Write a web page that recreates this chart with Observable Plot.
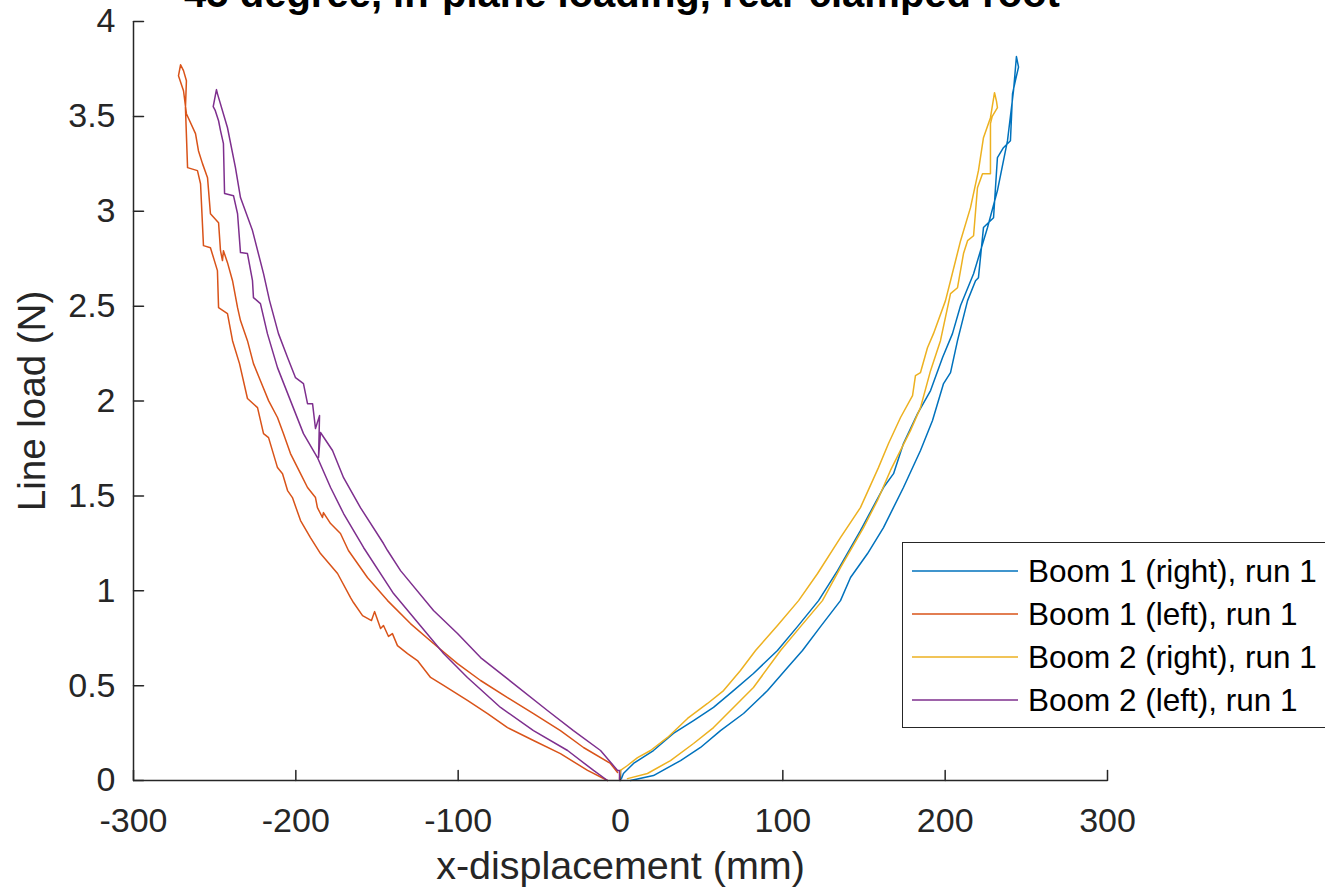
<!DOCTYPE html>
<html><head><meta charset="utf-8">
<script src="https://cdn.jsdelivr.net/npm/d3@7"></script>
<script src="https://cdn.jsdelivr.net/npm/@observablehq/plot@0.6"></script>
<style>
html,body{margin:0;padding:0;background:#fff;overflow:hidden;}
#wrap{position:relative;width:1325px;height:890px;overflow:hidden;font-family:"Liberation Sans",Arial,sans-serif;background:#fff;}
#title{position:absolute;left:0;width:1244px;text-align:center;top:-27px;font-weight:bold;font-size:40px;line-height:40px;color:#000;white-space:nowrap;}
#chart{position:absolute;left:0;top:0;}
#legend{position:absolute;left:902px;top:542px;width:440px;height:186px;border:1.5px solid #262626;background:#fff;box-sizing:border-box;}
.row{position:absolute;left:0;height:40px;width:440px;}
.row svg{position:absolute;left:9px;top:10px;}
.row .lb{position:absolute;left:125px;top:0;font-size:31.5px;line-height:40px;color:#000;white-space:nowrap;}
</style></head>
<body>
<div id="wrap">
  <div id="chart"></div>
  <div id="title">45 degree, in-plane loading, rear clamped root</div>
  <div id="legend"></div>
</div>
<script>
// ---- data (x-displacement in mm, line load in N) ----
const seriesNames = ["Boom 1 (right), run 1", "Boom 1 (left), run 1", "Boom 2 (right), run 1", "Boom 2 (left), run 1"];
const seriesColors = ["#0072BD", "#D95319", "#EDB120", "#7E2F8E"];

const boom1RightX = [0.6,1.8,8.0,20.3,32.6,45.0,57.3,69.6,81.9,96.7,109.0,122.0,133.7,147.8,162.0,168.2,174.3,183.0,191.0,198.4,204.5,209.5,217.5,226.1,232.2,238.4,242.1,243.9,
  245.2,243.3,241.5,240.2,235.9,232.2,229.8,223.6,220.5,218.7,213.8,207.6,203.3,199.0,192.2,184.8,174.3,162.0,152.2,141.7,135.5,123.2,112.1,102.9,90.6,75.8,61.6,49.3,37.0,20.3,6.2];
const boom1RightY = [0.01,0.037,0.09,0.158,0.248,0.316,0.385,0.474,0.564,0.685,0.811,0.948,1.106,1.317,1.544,1.617,1.776,1.934,2.055,2.229,2.355,2.503,2.671,2.914,3.109,3.372,3.635,3.815,
  3.76,3.69,3.62,3.372,3.335,3.283,2.966,2.914,2.650,2.634,2.529,2.318,2.150,2.092,1.897,1.739,1.544,1.333,1.196,1.070,0.948,0.811,0.685,0.596,0.474,0.353,0.263,0.174,0.105,0.026,0.0];

const boom1LeftX = [-1.8,-6.2,-22.8,-37.0,-53.6,-69.6,-86.2,-100.4,-115.2,-129.4,-143.5,-155.9,-167.6,-172.5,-178.6,-183.0,-183.6,-186.7,-187.9,-192.8,-197.1,-203.3,-207.6,-211.3,-216.8,-221.8,-226.1,-229.8,-234.1,-235.9,-239.0,-242.1,-244.6,-245.2,-246.4,-247.6,-252.6,-254.4,-257.5,-260.0,-261.8,-267.4,-269.2,-272.3,
  -271.0,-269.2,-267.4,-268.0,-266.7,-260.6,-258.7,-256.9,-252.6,-248.3,-247.6,-242.1,-239.0,-234.7,-229.8,-223.6,-219.9,-216.8,-211.3,-208.2,-205.1,-202.1,-197.1,-191.0,-184.8,-174.3,-166.3,-164.5,-158.9,-153.4,-151.5,-147.8,-146.0,-142.9,-140.5,-137.4,-131.2,-125.1,-117.0,-109.0,-94.3,-81.9,-69.6,-53.6,-37.0,-20.3,-8.0];
const boom1LeftY = [0.042,0.090,0.174,0.263,0.353,0.437,0.527,0.616,0.722,0.827,0.948,1.070,1.212,1.302,1.354,1.412,1.386,1.438,1.491,1.544,1.617,1.723,1.828,1.913,2.002,2.107,2.197,2.318,2.424,2.492,2.634,2.729,2.792,2.740,2.792,2.940,2.987,3.177,3.251,3.319,3.409,3.514,3.635,3.714,
  3.772,3.741,3.688,3.546,3.230,3.214,3.145,2.819,2.808,2.687,2.492,2.461,2.318,2.197,2.013,1.965,1.828,1.807,1.649,1.617,1.528,1.491,1.370,1.280,1.196,1.091,0.964,0.938,0.869,0.843,0.890,0.801,0.817,0.759,0.774,0.711,0.669,0.632,0.543,0.501,0.422,0.353,0.279,0.211,0.142,0.053,0.0];

const boom2RightX = [-0.6,0,4.3,10.5,18.5,29.0,41.3,53.6,63.5,73.9,83.2,96.7,109.7,121.4,135.5,147.8,158.9,165.1,172.5,179.9,181.7,184.8,189.1,192.8,200.2,203.3,209.5,215.6,220.5,223.6,227.9,230.4,
  231.6,232.2,229.0,227.9,227.9,223.0,219.9,217.5,213.8,211.3,207.6,203.3,197.1,191.0,184.8,178.6,166.3,158.3,149.7,135.5,124.4,110.9,98.6,81.9,69.6,57.3,45.0,30.8,16.6,4.3];
const boom2RightY = [0.01,0.053,0.079,0.121,0.158,0.227,0.327,0.406,0.474,0.580,0.685,0.817,0.948,1.091,1.280,1.438,1.649,1.776,1.913,2.028,2.134,2.150,2.281,2.355,2.529,2.634,2.845,3.019,3.214,3.388,3.493,3.625,
  3.58,3.546,3.50,3.462,3.198,3.198,3.124,2.871,2.845,2.777,2.597,2.566,2.318,2.160,1.965,1.844,1.634,1.476,1.333,1.122,0.948,0.811,0.685,0.490,0.385,0.279,0.195,0.105,0.037,0.01];

const boom2LeftX = [-0.6,-0.6,-1.8,-12.3,-29.0,-45.0,-65.9,-86.2,-100.4,-115.2,-135.5,-143.5,-146.0,-160.2,-170.6,-177.4,-184.8,-186.0,-185.4,-187.9,-189.7,-192.8,-195.3,-200.2,-205.1,-210.7,-216.2,-219.9,-226.7,-234.1,-237.2,-242.1,-248.3,-248.9,
  -250.9,-249.6,-247.6,-246.4,-244.6,-243.9,-238.4,-235.9,-234.1,-229.8,-226.7,-226.1,-221.8,-217.5,-211.3,-203.3,-195.3,-186.7,-178.6,-170.6,-158.3,-139.8,-109.0,-94.3,-73.9,-53.6,-32.6,-16.6,-8.0];
const boom2LeftY = [0.0,0.053,0.053,0.158,0.263,0.369,0.511,0.648,0.775,0.896,1.106,1.212,1.249,1.438,1.596,1.739,1.834,1.702,1.923,1.855,1.986,1.986,2.092,2.123,2.229,2.355,2.529,2.671,2.898,3.072,3.230,3.440,3.620,3.641,
  3.551,3.530,3.477,3.425,3.356,3.093,3.082,2.987,2.782,2.777,2.634,2.545,2.513,2.355,2.176,2.002,1.828,1.702,1.544,1.407,1.228,0.985,0.669,0.543,0.385,0.263,0.158,0.053,0.0];

const xTicks = [-300,-200,-100,0,100,200,300];
const xTickLabels = ["-300","-200","-100","0","100","200","300"];
const yTicks = [0,0.5,1,1.5,2,2.5,3,3.5,4];
const yTickLabels = ["0","0.5","1","1.5","2","2.5","3","3.5","4"];
const xLabel = "x-displacement (mm)";
const yLabel = "Line load (N)";

// ---- build table ----
const seriesXs = [boom1RightX, boom1LeftX, boom2RightX, boom2LeftX];
const seriesYs = [boom1RightY, boom1LeftY, boom2RightY, boom2LeftY];
const rows = [];
seriesNames.forEach((name, s) => {
  seriesXs[s].forEach((x, i) => rows.push({series: name, x, y: seriesYs[s][i]}));
});

const axisColor = "#262626";
const tickUp = {draw(ctx, l) { ctx.moveTo(0, 0); ctx.lineTo(0, -l); }};

const chart = Plot.plot({
  width: 1325,
  height: 890,
  marginLeft: 133,
  marginRight: 218,
  marginTop: 21,
  marginBottom: 110,
  x: {domain: [-300, 300]},
  y: {domain: [0, 4]},
  color: {domain: seriesNames, range: seriesColors},
  style: {fontFamily: '"Liberation Sans", Arial, sans-serif', color: axisColor, background: "transparent", overflow: "visible"},
  marks: [
    Plot.axisX(xTicks, {tickSize: 0, tickPadding: 27, fontSize: 34, fill: axisColor,
      tickFormat: d => xTickLabels[xTicks.indexOf(d)], label: null}),
    Plot.axisY(yTicks, {tickSize: 0, tickPadding: 18, fontSize: 34, fill: axisColor,
      tickFormat: d => yTickLabels[yTicks.indexOf(d)], label: null}),
    Plot.vector(xTicks, {x: d => d, y: 0, length: 10, anchor: "start", shape: tickUp, stroke: axisColor, strokeWidth: 1.5}),
    Plot.vector(yTicks, {x: -300, y: d => d, length: 10, rotate: 90, anchor: "start", shape: tickUp, stroke: axisColor, strokeWidth: 1.5}),
    ...seriesNames.map(name => Plot.line(rows.filter(r => r.series === name), {
      x: "x", y: "y", stroke: "series", strokeWidth: 1.5, strokeLinejoin: "round"
    })),
    Plot.ruleY([0], {stroke: axisColor, strokeWidth: 1.5}),
    Plot.ruleX([-300], {stroke: axisColor, strokeWidth: 1.5}),
    Plot.text([xLabel], {text: d => d, frameAnchor: "bottom", lineAnchor: "middle", textAnchor: "middle", dy: 86, fontSize: 39.5, fill: axisColor}),
    Plot.text([yLabel], {text: d => d, frameAnchor: "left", lineAnchor: "middle", textAnchor: "middle", dx: -101, rotate: -90, fontSize: 38.5, fill: axisColor})
  ]
});
document.getElementById("chart").appendChild(chart);

// ---- legend ----
const legend = d3.select("#legend");
seriesNames.forEach((name, i) => {
  const row = legend.append("div").attr("class", "row").style("top", (8 + i * 43) + "px");
  const sw = row.append("svg").attr("width", 106).attr("height", 20);
  sw.append("line").attr("x1", 0).attr("x2", 106).attr("y1", 10).attr("y2", 10)
    .attr("stroke", seriesColors[i]).attr("stroke-width", 1.5);
  row.append("div").attr("class", "lb").text(name);
});
</script>
</body></html>
